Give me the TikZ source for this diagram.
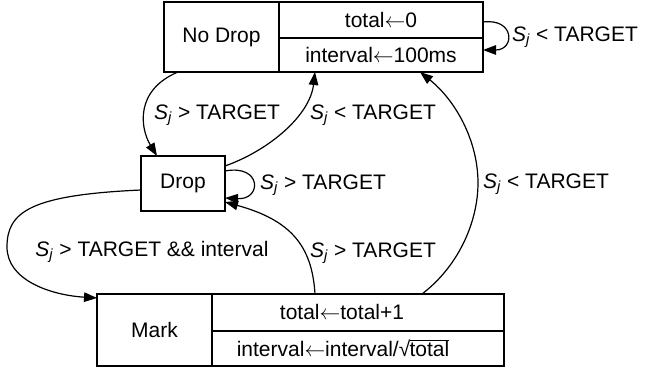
\documentclass[tikz,border=0pt]{standalone}
\usepackage{fontspec}
\setmainfont{Liberation Sans}
\usetikzlibrary{arrows.meta}
\newcommand\Sj{\textit{S}\textsubscript{\textit{j}}}
\newcommand\la{\ensuremath{\leftarrow}}
\newcommand\mysqrt[1]{√\kern-0.8pt\ensuremath{\overline{\mbox{#1}}}}
\begin{document}
\begin{tikzpicture}[x=1pt,y=-1pt,
  every node/.style={font=\fontsize{21}{25}\selectfont, inner sep=0pt, outer sep=0pt},
  field/.style={draw, line width=1.2pt, anchor=north west},
  txt/.style={},
  lbl/.style={yshift=-2pt},
  edge/.style={line width=1.2pt, -{Triangle[length=13pt,width=9.5pt]}}]
\useasboundingbox (0,0) rectangle (646,371);
% No Drop record
\node[field, minimum width=115pt, minimum height=70pt] (ndL) at (164,2) {No Drop};
\node[field, minimum width=204pt, minimum height=36pt] (ndT) at (279,2) {total\la0};
\node[field, minimum width=204pt, minimum height=34pt] (ndB) at (279,38) {interval\la100ms};
% Drop
\node[field, minimum width=84pt, minimum height=55pt] (drop) at (141,156) {Drop};
% Mark record
\node[field, minimum width=115pt, minimum height=72pt] (mkL) at (97,294) {Mark};
\node[field, minimum width=292pt, minimum height=37pt] (mkT) at (212,294) {};
\node[field, minimum width=292pt, minimum height=35pt] (mkB) at (212,331) {};
\node[txt] (mkTt) at (342,312) {total\la total+1};
\node[txt] (mkBt) at (343,348) {interval\la interval/\mysqrt{total}};
% edges
\draw[edge] ([xshift=14pt]ndL.south west) .. controls (135,90) and (140,128) .. ([xshift=16pt]drop.north west);
\draw[edge] ([yshift=-10pt]drop.north east) .. controls (270,150) and (310,115) .. ([xshift=36pt]ndB.south west);
\draw[edge] ([yshift=-15pt]drop.north east) .. controls (262,164) and (262,200) .. ([yshift=13pt]drop.south east);
\draw[edge] ([yshift=-20pt]ndT.north east) .. controls (515,18) and (515,50) .. ([yshift=-12pt]ndB.north east);
\draw[edge] ([yshift=21pt]drop.south west) .. controls (30,195) and (7,212) .. (7,247) .. controls (7,280) and (50,295) .. ([yshift=-4pt]mkL.north west);
\draw[edge] ([xshift=103pt]mkT.north west) .. controls (312,245) and (290,220) .. ([yshift=9pt]drop.south east);
\draw[edge] ([xshift=210pt]mkT.north west) .. controls (460,265) and (478,220) .. (478,183) .. controls (478,140) and (455,100) .. ([xshift=141pt]ndB.south west);
% labels
\node[lbl] (l1) at (217,113) {\Sj\ > TARGET};
\node[lbl] (l2) at (373,113) {\Sj\ < TARGET};
\node[lbl] (l3) at (323,183) {\Sj\ > TARGET};
\node[lbl] (l4) at (575,35) {\Sj\ < TARGET};
\node[lbl] (l5) at (152,250) {\Sj\ > TARGET \&\& interval};
\node[lbl] (l6) at (373,251) {\Sj\ > TARGET};
\node[lbl] (l7) at (546,182) {\Sj\ < TARGET};
\end{tikzpicture}
\end{document}
